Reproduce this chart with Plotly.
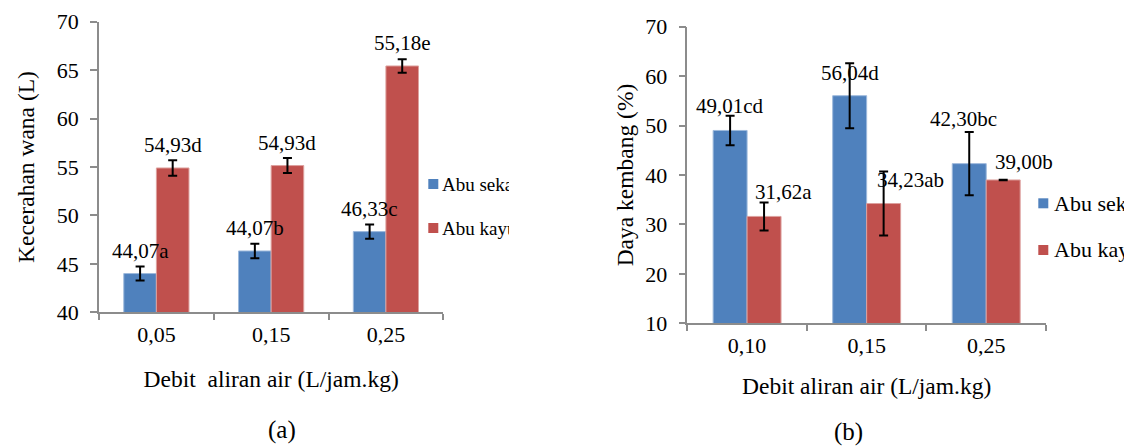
import plotly.graph_objects as go

# ---------------- data ----------------
categories_a = ["0,05", "0,15", "0,25"]
sekam_a = [44.0, 46.33, 48.33]
kayu_a = [54.9, 55.15, 65.43]
err_sekam_a = [0.72, 0.74, 0.74]
err_kayu_a = [0.8, 0.77, 0.7]
labels_sekam_a = ["44,07a", "44,07b", "46,33c"]
labels_kayu_a = ["54,93d", "54,93d", "55,18e"]

categories_b = ["0,10", "0,15", "0,25"]
sekam_b = [49.01, 56.04, 42.30]
kayu_b = [31.62, 34.23, 39.00]
err_sekam_b = [3.0, 6.57, 6.4]
err_kayu_b = [2.83, 6.47, 0.05]
labels_sekam_b = ["49,01cd", "56,04d", "42,30bc"]
labels_kayu_b = ["31,62a", "34,23ab", "39,00b"]

series_names = ["Abu sekam", "Abu kayu"]

# ---------------- style ----------------
W, H = 1124, 446
FONT = "Liberation Serif, Times New Roman, serif"
BLUE = "#4F81BD"
RED = "#C0504D"
BLUE_EDGE = "#9DB9DC"
RED_EDGE = "#DDA09E"
AXIS = "#8C8C8C"
BARGAP = 0.432

# label pixel offsets (dx, dy) relative to top of the error bar
shift_sekam_a = [(0, 16), (0, 15.5), (0, 15)]
shift_kayu_a = [(0, 15.5), (0, 15), (0, 16)]
shift_sekam_b = [(0, 9.5), (0, -10), (-5.7, 13)]
shift_kayu_b = [(19.3, 10), (27.2, -8.3), (20.5, 17.6)]


def px(x):
    return x / W


def py(y):
    return 1 - y / H


fig = go.Figure()


def add_bars(cats, vals, errs, color, edge, name, xa, ya):
    fig.add_trace(go.Bar(
        x=cats, y=vals, name=name, xaxis=xa, yaxis=ya,
        marker=dict(color=color, line=dict(color=edge, width=1)),
        error_y=dict(type="data", array=errs, visible=True,
                     color="black", thickness=2, width=4.5),
        showlegend=False,
    ))


add_bars(categories_a, sekam_a, err_sekam_a, BLUE, BLUE_EDGE, series_names[0], "x", "y")
add_bars(categories_a, kayu_a, err_kayu_a, RED, RED_EDGE, series_names[1], "x", "y")
add_bars(categories_b, sekam_b, err_sekam_b, BLUE, BLUE_EDGE, series_names[0], "x2", "y2")
add_bars(categories_b, kayu_b, err_kayu_b, RED, RED_EDGE, series_names[1], "x2", "y2")

annotations = []
half = (1 - BARGAP) / 4


def add_labels(vals, errs, labels, shifts, side, xref, yref):
    for i, (v, e, t, (dx, dy)) in enumerate(zip(vals, errs, labels, shifts)):
        annotations.append(dict(
            x=i + side * half, y=v + e, xref=xref, yref=yref,
            text=t, showarrow=False, xanchor="center", yanchor="middle",
            xshift=dx, yshift=dy,
            font=dict(family=FONT, size=21, color="black"),
        ))


add_labels(sekam_a, err_sekam_a, labels_sekam_a, shift_sekam_a, -1, "x", "y")
add_labels(kayu_a, err_kayu_a, labels_kayu_a, shift_kayu_a, 1, "x", "y")
add_labels(sekam_b, err_sekam_b, labels_sekam_b, shift_sekam_b, -1, "x2", "y2")
add_labels(kayu_b, err_kayu_b, labels_kayu_b, shift_kayu_b, 1, "x2", "y2")

# custom legends (clipped like the original)
shapes = []


def add_legend(mx, ys, tx, clipw, size):
    for name, color, yc in zip(series_names, [BLUE, RED], ys):
        shapes.append(dict(type="rect", xref="paper", yref="paper",
                           x0=px(mx), x1=px(mx + 10), y0=py(yc + 5), y1=py(yc - 5),
                           fillcolor=color, line=dict(width=0)))
        ann = dict(x=px(tx), y=py(yc), xref="paper", yref="paper",
                   text=name, showarrow=False, xanchor="left", yanchor="middle",
                   align="left", borderpad=0,
                   font=dict(family=FONT, size=size, color="black"))
        if clipw:
            ann["width"] = clipw
        annotations.append(ann)


add_legend(428.3, [184, 228], 441, 67, 19)
add_legend(1038.3, [203.3, 250], 1052.5, None, 22)

# captions
annotations.append(dict(x=px(281.7), y=py(430), xref="paper", yref="paper", text="(a)",
                        showarrow=False, xanchor="center", yanchor="middle",
                        font=dict(family=FONT, size=25, color="black")))
annotations.append(dict(x=px(848.3), y=py(431.5), xref="paper", yref="paper", text="(b)",
                        showarrow=False, xanchor="center", yanchor="middle",
                        font=dict(family=FONT, size=25, color="black")))

tickfont = dict(family=FONT, size=22, color="black")
titlefont = dict(family=FONT, size=23.5, color="black")

xcommon = dict(type="category", showline=True, linecolor=AXIS, linewidth=1.5,
               ticks="outside", ticklen=6, tickwidth=1.5, tickcolor=AXIS,
               tickson="boundaries", showgrid=False, zeroline=False,
               tickfont=tickfont, range=[-0.5, 2.5], ticklabelstandoff=2,
               automargin=False)
ycommon = dict(type="linear", showline=True, linecolor=AXIS, linewidth=1.5,
               ticks="outside", ticklen=7, tickwidth=1.5, tickcolor=AXIS,
               showgrid=False, zeroline=False, tickfont=tickfont,
               ticklabelstandoff=7, automargin=False)

fig.update_layout(
    template="none",
    width=W, height=H,
    margin=dict(l=0, r=0, t=0, b=0, pad=0),
    paper_bgcolor="white", plot_bgcolor="white",
    barmode="group", bargap=BARGAP, bargroupgap=0,
    font=dict(family=FONT, color="black"),
    xaxis=dict(domain=[px(99), px(443.3)], anchor="y",
               title=dict(text="Debit\u00a0 aliran air (L/jam.kg)", font=titlefont, standoff=24),
               **xcommon),
    yaxis=dict(domain=[py(312.3), py(21.7)], anchor="x", range=[40, 70], dtick=5,
               title=dict(text="Kecerahan wana (L)", font=titlefont, standoff=16),
               **ycommon),
    xaxis2=dict(domain=[px(687.3), px(1046)], anchor="y2",
                title=dict(text="Debit aliran air (L/jam.kg)", font=titlefont, standoff=20),
                **xcommon),
    yaxis2=dict(domain=[py(323.3), py(26.7)], anchor="x2", range=[10, 70], dtick=10,
                title=dict(text="Daya kembang (%)", font=titlefont, standoff=5),
                **ycommon),
    annotations=annotations,
    shapes=shapes,
)

fig.write_html("out.html",
               config={"displayModeBar": False},
               post_script="document.body.style.margin='0';document.body.style.overflow='hidden';")
